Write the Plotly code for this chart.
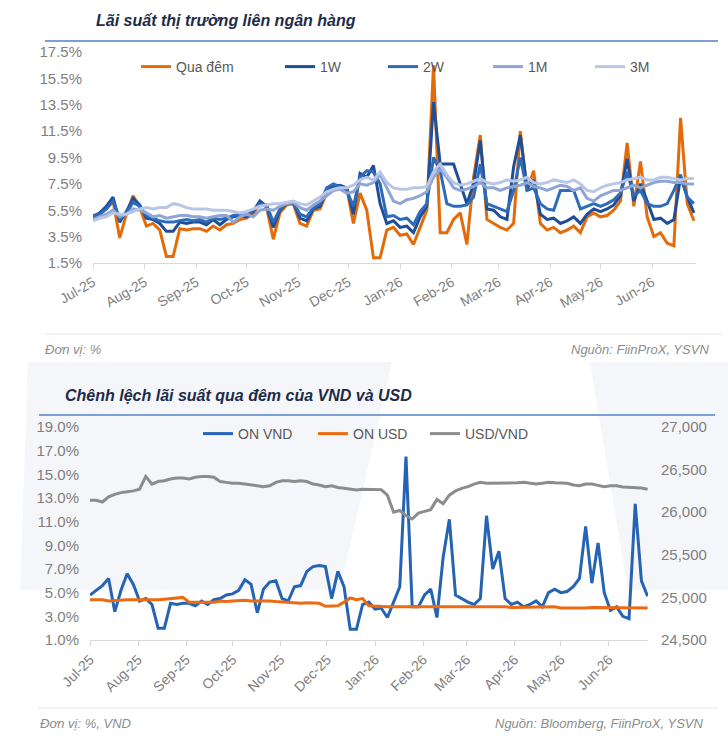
import plotly.graph_objects as go

W, H = 728, 743

DATES = ("2025-07-01 2025-07-05 2025-07-09 2025-07-13 2025-07-17 2025-07-21 2025-07-25 2025-07-29 "
         "2025-08-02 2025-08-06 2025-08-10 2025-08-14 2025-08-18 2025-08-22 2025-08-26 2025-08-30 "
         "2025-09-03 2025-09-07 2025-09-11 2025-09-15 2025-09-19 2025-09-23 2025-09-27 "
         "2025-10-01 2025-10-05 2025-10-09 2025-10-13 2025-10-17 2025-10-21 2025-10-25 2025-10-29 "
         "2025-11-02 2025-11-06 2025-11-10 2025-11-14 2025-11-18 2025-11-22 2025-11-26 2025-11-30 "
         "2025-12-04 2025-12-08 2025-12-12 2025-12-16 2025-12-20 2025-12-24 2025-12-28 "
         "2026-01-01 2026-01-05 2026-01-09 2026-01-13 2026-01-17 2026-01-21 2026-01-25 2026-01-29 "
         "2026-02-02 2026-02-06 2026-02-10 2026-02-14 2026-02-18 2026-02-22 2026-02-26 "
         "2026-03-02 2026-03-06 2026-03-10 2026-03-14 2026-03-18 2026-03-22 2026-03-26 2026-03-30 "
         "2026-04-03 2026-04-07 2026-04-11 2026-04-15 2026-04-19 2026-04-23 2026-04-27 "
         "2026-05-01 2026-05-05 2026-05-09 2026-05-13 2026-05-17 2026-05-21 2026-05-25 2026-05-29 "
         "2026-06-02 2026-06-06 2026-06-10 2026-06-14 2026-06-18 2026-06-22 2026-06-26").split()

# Overnight VND interbank rate (%), also "ON VND" in the lower chart
QUA_DEM = [4.8, 5.2, 5.6, 6.2, 3.4, 5.2, 6.6, 5.7,
           4.3, 4.5, 4.0, 2.0, 2.0, 4.1, 4.0, 4.1,
           4.1, 3.9, 4.3, 4.0, 4.4, 4.5, 4.8,
           4.9, 5.2, 6.1, 5.7, 3.3, 5.3, 5.9, 6.0,
           4.5, 4.3, 5.5, 5.6, 6.8, 7.2, 7.3, 7.2,
           4.5, 6.8, 5.5, 1.9, 1.9, 4.0, 4.2,
           3.6, 3.7, 2.9, 4.2, 5.5, 16.5, 3.8, 3.8,
           4.8, 5.3, 2.9, 8.0, 11.2, 4.8, 4.5,
           4.2, 4.0, 4.5, 11.5, 7.0, 8.5, 4.5, 4.0,
           4.2, 3.8, 4.0, 4.3, 3.8, 5.0, 5.3,
           5.0, 5.1, 5.5, 6.2, 10.6, 5.8, 9.2, 5.0,
           3.5, 3.8, 3.0, 2.8, 12.5, 6.0, 4.7]

R_1W = [5.0, 5.3, 5.8, 6.5, 4.6, 5.4, 6.4, 5.9,
        4.9, 4.8, 4.5, 3.9, 3.9, 4.6, 4.5, 4.6,
        4.6, 4.4, 4.8, 4.4, 4.8, 5.0, 5.1,
        5.0, 5.4, 6.2, 5.8, 4.2, 5.5, 6.0, 6.1,
        4.9, 4.7, 5.6, 5.8, 7.0, 7.3, 7.4, 7.2,
        5.2, 8.3, 8.0, 8.9, 6.0, 4.5, 4.7,
        4.2, 4.3, 3.8, 5.0, 5.8, 13.7, 9.0, 9.0,
        9.0, 7.5, 6.0, 7.5, 10.8, 5.6, 5.5,
        5.0, 4.8, 8.8, 11.2, 7.2, 7.8, 5.2, 4.8,
        4.9, 4.5, 4.7, 5.0, 4.5, 5.2, 5.6,
        5.4, 5.6, 5.9, 6.6, 9.4, 6.2, 7.5, 6.2,
        4.8, 4.9, 4.5, 4.8, 8.0, 6.5, 5.3]

R_2W = [5.1, 5.2, 5.6, 6.2, 4.8, 5.3, 6.1, 5.8,
        5.1, 4.9, 4.7, 4.6, 4.6, 4.7, 4.8, 4.7,
        4.8, 4.6, 4.9, 4.8, 4.9, 5.1, 5.2,
        5.1, 5.5, 6.0, 5.9, 4.6, 5.6, 6.0, 6.1,
        5.2, 5.0, 5.7, 6.0, 7.2, 7.5, 7.3, 7.0,
        5.8, 8.0, 8.5, 8.4, 7.5, 5.0, 5.1,
        4.8, 4.9, 4.4, 5.4, 6.0, 9.5, 8.5, 6.0,
        5.8, 5.8, 5.9, 6.5, 9.0, 6.0, 5.8,
        5.6, 5.4, 7.0, 9.5, 7.0, 7.2, 6.0, 5.6,
        5.5, 7.0, 7.0, 7.0, 5.6, 5.8, 6.0,
        5.8, 6.0, 6.3, 6.8, 8.4, 6.6, 7.0, 6.0,
        5.8, 5.8, 6.0, 7.0, 8.2, 6.5, 6.0]

R_1M = [4.8, 5.0, 5.2, 5.5, 5.0, 5.2, 5.6, 5.5,
        5.3, 5.0, 5.1, 4.9, 5.0, 5.1, 5.1, 5.0,
        5.0, 4.9, 5.0, 5.1, 5.1, 4.6, 5.0,
        5.2, 5.0, 5.5, 5.6, 5.5, 5.8, 6.0, 6.1,
        5.7, 5.5, 5.9, 6.2, 6.6, 7.0, 7.1, 6.8,
        6.9, 7.5, 7.4, 7.6, 8.2, 7.2, 6.2,
        6.0, 6.3, 6.4, 6.6, 6.9, 8.0, 8.6, 8.0,
        7.2, 7.0, 7.1, 7.3, 7.6, 7.2, 7.2,
        7.0, 7.2, 7.3, 7.4, 7.6, 7.3, 7.2, 7.0,
        7.2, 7.4, 7.3, 7.0, 7.2, 6.4, 6.2,
        6.6, 6.8, 7.0, 7.0, 7.2, 7.4, 7.2, 7.4,
        7.6, 7.7, 7.7, 7.6, 7.6, 7.5, 7.5]

R_3M = [4.7, 4.9, 5.0, 5.3, 5.2, 5.2, 5.4, 5.6,
        5.7, 5.6, 5.7, 5.7, 6.0, 5.9, 5.7, 5.6,
        5.6, 5.6, 5.5, 5.5, 5.5, 5.4, 5.3,
        5.4, 5.6, 5.8, 5.9, 6.0, 6.0, 6.1, 6.2,
        6.0, 5.9, 6.2, 6.5, 6.9, 7.1, 7.2, 7.2,
        7.4, 7.8, 8.0, 7.8, 8.4, 7.6, 7.2,
        7.1, 7.1, 7.2, 7.2, 7.3, 8.4, 9.0, 8.2,
        7.6, 7.4, 7.5, 7.7, 7.9, 7.6, 7.5,
        7.6, 7.8, 7.7, 7.8, 8.0, 7.6, 7.5, 7.6,
        7.8, 7.7, 7.6, 7.8, 7.5, 7.0, 6.9,
        7.2, 7.4, 7.5, 7.6, 7.8, 7.9, 8.0, 7.8,
        7.8, 8.0, 8.0, 7.9, 7.8, 7.9, 7.9]

ON_USD = [4.4, 4.4, 4.4, 4.3, 4.35, 4.4, 4.4, 4.4,
          4.4, 4.35, 4.4, 4.4, 4.45, 4.5, 4.55, 4.6,
          4.2, 4.2, 4.15, 4.2, 4.2, 4.3, 4.25,
          4.3, 4.35, 4.35, 4.3, 4.3, 4.35, 4.3, 4.25,
          4.2, 4.15, 4.15, 4.1, 4.15, 4.1, 4.1, 3.85,
          3.85, 3.9, 4.2, 4.55, 4.4, 4.5, 3.9,
          3.85, 3.8, 3.8, 3.8, 3.8, 3.8, 3.8, 3.8,
          3.8, 3.8, 3.8, 3.85, 3.8, 3.8, 3.8,
          3.8, 3.8, 3.8, 3.8, 3.8, 3.8, 3.8, 3.75,
          3.75, 3.8, 3.8, 3.8, 3.8, 3.8, 3.8,
          3.7, 3.7, 3.7, 3.65, 3.7, 3.75, 3.75, 3.75,
          3.7, 3.7, 3.75, 3.75, 3.75, 3.75, 3.7]

USD_VND = [26140, 26140, 26120, 26180, 26210, 26230, 26240, 26250,
           26270, 26420, 26330, 26360, 26370, 26390, 26400, 26400,
           26390, 26410, 26420, 26420, 26410, 26360, 26350,
           26340, 26340, 26330, 26320, 26310, 26300, 26310, 26350,
           26370, 26370, 26360, 26370, 26360, 26330, 26320, 26300,
           26310, 26290, 26280, 26270, 26260, 26270, 26270,
           26270, 26265, 26200, 26000, 26020, 25960, 25920, 25990,
           26010, 26030, 26150, 26100, 26200, 26250, 26280,
           26300, 26330, 26350, 26340, 26340, 26345, 26340, 26340,
           26345, 26350, 26340, 26330, 26340, 26350, 26345,
           26345, 26340, 26320, 26310, 26330, 26330, 26315, 26300,
           26310, 26310, 26295, 26290, 26290, 26285, 26270]

TOP_NAMES = ["Qua đêm", "1W", "2W", "1M", "3M"]
TOP_COLORS = ["#E36C0A", "#1F4E99", "#2C6CBB", "#8EA5D6", "#B9C7E6"]
BOT_NAMES = ["ON VND", "ON USD", "USD/VND"]
BOT_COLORS = ["#2563B3", "#EB6A12", "#8C8C8C"]

TOP_TITLE = "Lãi suất thị trường liên ngân hàng"
BOT_TITLE = "Chênh lệch lãi suất qua đêm của VND và USD"
TOP_UNIT = "Đơn vị: %"
TOP_SRC = "Nguồn: FiinProX, YSVN"
BOT_UNIT = "Đơn vị: %, VND"
BOT_SRC = "Nguồn: Bloomberg, FiinProX, YSVN"

FONT = "Liberation Sans, Arial, sans-serif"
TICK_C = "#7F7F7F"
LEG_C = "#595959"


def px(x):
    return x / W


def py(y):
    return 1 - y / H


fig = go.Figure()

top_series = [QUA_DEM, R_1W, R_2W, R_1M, R_3M]
for k, (name, col, vals) in enumerate(zip(TOP_NAMES, TOP_COLORS, top_series)):
    fig.add_trace(go.Scatter(x=DATES, y=vals, name=name, mode="lines",
                             line=dict(color=col, width=3),
                             xaxis="x", yaxis="y",
                             legend="legend" if k == 0 else f"legend{k+1}"))

bot_series = [(QUA_DEM, "y2"), (ON_USD, "y2"), (USD_VND, "y3")]
for k, (name, col, (vals, ya)) in enumerate(zip(BOT_NAMES, BOT_COLORS, bot_series)):
    fig.add_trace(go.Scatter(x=DATES, y=vals, name=name, mode="lines",
                             line=dict(color=col, width=3),
                             xaxis="x2", yaxis=ya,
                             legend=f"legend{k+6}"))

tickfont = dict(family=FONT, size=15, color=TICK_C)
xfont = dict(family=FONT, size=14, color=TICK_C)

common_x = dict(type="date", tickformat="%b-%y", dtick="M1", tick0="2025-07-01",
                showline=True, linecolor="#D9D9D9", linewidth=1,
                ticks="outside", ticklen=5, tickcolor="#D9D9D9",
                showgrid=False, zeroline=False, tickfont=xfont, automargin=False)

layout = dict(
    width=W, height=H, autosize=False,
    margin=dict(l=0, r=0, t=0, b=0),
    paper_bgcolor="white", plot_bgcolor="rgba(0,0,0,0)",
    font=dict(family=FONT, color=TICK_C),
    xaxis=dict(domain=[px(93), px(696)], anchor="y",
               range=["2025-07-01", "2026-06-27 06:00"], tickangle=-30, **common_x),
    yaxis=dict(domain=[py(263), py(52)], anchor="x", range=[1.5, 17.5],
               tick0=1.5, dtick=2, tickformat=".1f", ticksuffix="%",
               showgrid=False, zeroline=False, showline=False, ticks="",
               ticklabelstandoff=10, tickfont=tickfont, automargin=False),
    xaxis2=dict(domain=[px(90), px(648)], anchor="y2",
                range=["2025-07-01", "2026-06-26 06:00"], tickangle=-45, **common_x),
    yaxis2=dict(domain=[py(640), py(427)], anchor="x2", range=[1, 19],
                tick0=1, dtick=2, tickformat=".1f", ticksuffix="%",
                showgrid=False, zeroline=False, showline=False, ticks="",
                ticklabelstandoff=10, tickfont=tickfont, automargin=False),
    yaxis3=dict(overlaying="y2", side="right", anchor="x2", range=[24500, 27000],
                tick0=24500, dtick=500, tickformat=",",
                showgrid=False, zeroline=False, showline=False, ticks="",
                ticklabelstandoff=12, tickfont=tickfont, automargin=False),
    showlegend=True,
)

# one legend per entry, placed where the reference draws it
leg_pos = [(143, 67), (287, 67), (390, 67), (495, 67), (597, 67),
           (205, 434), (320, 434), (432, 434)]
for k, (lx, ly) in enumerate(leg_pos):
    key = "legend" if k == 0 else f"legend{k+1}"
    layout[key] = dict(x=px(lx - 7), y=py(ly), xanchor="left", yanchor="middle",
                       orientation="h", bgcolor="rgba(0,0,0,0)", borderwidth=0,
                       font=dict(family=FONT, size=14, color=LEG_C),
                       itemwidth=30)

fig.update_layout(**layout)

WM = "#F5F6F9"  # faint watermark tint behind the lower chart


def poly(pts):
    d = "M " + " L ".join(f"{px(a):.4f},{py(b):.4f}" for a, b in pts) + " Z"
    return dict(type="path", xref="paper", yref="paper", path=d,
                fillcolor=WM, line=dict(width=0), layer="below")


shapes = [
    poly([(28, 362), (392, 362), (340, 590), (20, 590)]),
    poly([(590, 362), (728, 362), (728, 590), (628, 590)]),
    dict(type="line", xref="paper", yref="paper", x0=px(45), x1=px(718), y0=py(41), y1=py(41),
         line=dict(color="#7F9FD3", width=2)),
    dict(type="line", xref="paper", yref="paper", x0=px(45), x1=px(722), y0=py(334), y1=py(334),
         line=dict(color="#E6E6E6", width=1)),
    dict(type="line", xref="paper", yref="paper", x0=px(39), x1=px(715), y0=py(415), y1=py(415),
         line=dict(color="#4F82C8", width=1.5)),
    dict(type="line", xref="paper", yref="paper", x0=px(38), x1=px(718), y0=py(708), y1=py(708),
         line=dict(color="#E9E9E9", width=1)),
]
fig.update_layout(shapes=shapes)

title_font = dict(family=FONT, size=16, color="#1C2B4A")
foot_font = dict(family=FONT, size=13, color="#8C8C8C")
ann = [
    dict(text=f"<b><i>{TOP_TITLE}</i></b>", x=px(94), y=py(20), xanchor="left", yanchor="middle",
         font=title_font),
    dict(text=f"<b><i>{BOT_TITLE}</i></b>", x=px(63), y=py(395), xanchor="left", yanchor="middle",
         font=title_font),
    dict(text=f"<i>{TOP_UNIT}</i>", x=px(43), y=py(349), xanchor="left", yanchor="middle",
         font=foot_font),
    dict(text=f"<i>{TOP_SRC}</i>", x=px(711), y=py(349), xanchor="right", yanchor="middle",
         font=foot_font),
    dict(text=f"<i>{BOT_UNIT}</i>", x=px(38), y=py(723), xanchor="left", yanchor="middle",
         font=foot_font),
    dict(text=f"<i>{BOT_SRC}</i>", x=px(705), y=py(723), xanchor="right", yanchor="middle",
         font=foot_font),
]
for a in ann:
    a.update(xref="paper", yref="paper", showarrow=False)
fig.update_layout(annotations=ann)

fig.write_html("out.html")
